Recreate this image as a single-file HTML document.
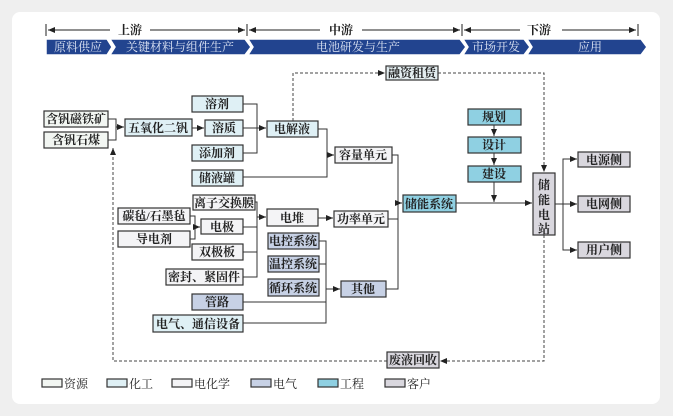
<!DOCTYPE html>
<html><head><meta charset="utf-8"><style>
html,body{margin:0;padding:0;background:#efefef;}
svg{display:block;}
text{font-family:"Liberation Serif","Noto Serif CJK SC",serif;font-size:12px;font-weight:700;fill:#222;}
</style></head><body>
<svg width="673" height="416" viewBox="0 0 673 416" xmlns="http://www.w3.org/2000/svg">
<defs>
<marker id="a" markerWidth="8" markerHeight="8" refX="7" refY="4" orient="auto" markerUnits="userSpaceOnUse"><path d="M0,1 L7,4 L0,7 z" fill="#222"/></marker>
</defs>
<rect x="12" y="12" width="648" height="392" rx="8" fill="#fff"/>
<!-- header arrows -->
<g stroke="#222" stroke-width="1">
<line x1="46" y1="24" x2="46" y2="36"/><line x1="247" y1="24" x2="247" y2="36"/><line x1="462" y1="24" x2="462" y2="36"/><line x1="638" y1="24" x2="638" y2="36"/>
<line x1="110" y1="30" x2="48" y2="30" marker-end="url(#a)"/><line x1="150" y1="30" x2="245" y2="30" marker-end="url(#a)"/>
<line x1="320" y1="30" x2="249" y2="30" marker-end="url(#a)"/><line x1="362" y1="30" x2="460" y2="30" marker-end="url(#a)"/>
<line x1="520" y1="30" x2="464" y2="30" marker-end="url(#a)"/><line x1="562" y1="30" x2="636" y2="30" marker-end="url(#a)"/>
</g>
<text x="130" y="34" text-anchor="middle">上游</text>
<text x="341" y="34" text-anchor="middle">中游</text>
<text x="539" y="34" text-anchor="middle">下游</text>
<!-- banner -->
<g fill="#22448f" stroke="#fff" stroke-width="1.5">
<path d="M46,39 L107,39 L112,47 L107,55 L46,55 z"/>
<path d="M110,39 L245,39 L251,47 L245,55 L110,55 L115,47 z"/>
<path d="M248,39 L460,39 L466,47 L460,55 L248,55 L253,47 z"/>
<path d="M463,39 L524,39 L530,47 L524,55 L463,55 L468,47 z"/>
<path d="M527,39 L641,39 L647,47 L641,55 L527,55 L532,47 z"/>
</g>
<g style="fill:#dfe6f5;font-weight:400">
<text x="78" y="51" text-anchor="middle" style="fill:#dfe6f5;font-weight:400">原料供应</text>
<text x="180" y="51" text-anchor="middle" style="fill:#dfe6f5;font-weight:400">关键材料与组件生产</text>
<text x="358" y="51" text-anchor="middle" style="fill:#dfe6f5;font-weight:400">电池研发与生产</text>
<text x="496" y="51" text-anchor="middle" style="fill:#dfe6f5;font-weight:400">市场开发</text>
<text x="590" y="51" text-anchor="middle" style="fill:#dfe6f5;font-weight:400">应用</text>
</g>
<!-- connectors -->
<g stroke="#333" stroke-width="1" fill="none">
<polyline points="108,119 116,119 116,140 108,140"/><line x1="116" y1="127" x2="124" y2="127" marker-end="url(#a)"/>
<line x1="192" y1="128" x2="204" y2="128" marker-end="url(#a)"/>
<polyline points="243,104 257,104 257,153 243,153"/><line x1="243" y1="128" x2="266" y2="128" marker-end="url(#a)"/>
<polyline points="318,129 327,129 327,177 243,177"/><line x1="327" y1="155" x2="334" y2="155" marker-end="url(#a)"/>
<polyline points="392,155 398,155 398,289 386,289"/><line x1="388" y1="219" x2="398" y2="219"/><line x1="398" y1="203" x2="402" y2="203" marker-end="url(#a)"/>
<polyline points="190,216 195,216 195,239 190,239"/><line x1="195" y1="227" x2="200" y2="227" marker-end="url(#a)"/>
<polyline points="255,202 257,202 257,277 243,277"/><line x1="243" y1="227" x2="257" y2="227"/><line x1="243" y1="252" x2="257" y2="252"/><line x1="257" y1="217" x2="266" y2="217" marker-end="url(#a)"/>
<line x1="318" y1="218" x2="333" y2="218" marker-end="url(#a)"/>
<polyline points="319,241 326,241 326,323 243,323"/><line x1="319" y1="264" x2="326" y2="264"/><line x1="243" y1="302" x2="326" y2="302"/><line x1="326" y1="289" x2="340" y2="289" marker-end="url(#a)"/>
<line x1="456" y1="203" x2="532" y2="203" marker-end="url(#a)"/>
<line x1="494" y1="125" x2="494" y2="136" marker-end="url(#a)"/>
<line x1="494" y1="153" x2="494" y2="165" marker-end="url(#a)"/>
<line x1="494" y1="182" x2="494" y2="202" marker-end="url(#a)"/>
<line x1="555" y1="204" x2="563" y2="204"/><polyline points="577,159 563,159 563,250 577,250"/>
<line x1="563" y1="159" x2="577" y2="159" marker-end="url(#a)"/><line x1="563" y1="204" x2="577" y2="204" marker-end="url(#a)"/><line x1="563" y1="250" x2="577" y2="250" marker-end="url(#a)"/>
</g>
<g stroke="#444" stroke-width="1" fill="none" stroke-dasharray="3,2">
<polyline points="293,121 293,73 385,73" marker-end="url(#a)"/>
<polyline points="438,73 544,73 544,172" marker-end="url(#a)"/>
<polyline points="544,235 544,361 440,361" marker-end="url(#a)"/>
<polyline points="387,361 113,361 113,148" marker-end="url(#a)"/>
</g>
<!-- nodes -->
<g stroke="#333" stroke-width="1.2">
<rect x="44" y="111" width="64" height="16" fill="#f2f6f2"/>
<rect x="44" y="132" width="64" height="16" fill="#f2f6f2"/>
<rect x="125" y="119" width="67" height="17" fill="#dff0f5"/>
<rect x="192" y="96" width="51" height="16" fill="#dff0f5"/>
<rect x="205" y="120" width="38" height="16" fill="#dff0f5"/>
<rect x="192" y="145" width="51" height="16" fill="#dff0f5"/>
<rect x="192" y="170" width="51" height="16" fill="#dff0f5"/>
<rect x="267" y="121" width="51" height="16" fill="#dff0f5"/>
<rect x="335" y="147" width="57" height="16" fill="#f4f4f6"/>
<rect x="386" y="66" width="52" height="14" fill="#e3edf0"/>
<rect x="468" y="109" width="53" height="16" fill="#8fd0e2"/>
<rect x="468" y="137" width="53" height="16" fill="#8fd0e2"/>
<rect x="468" y="166" width="53" height="16" fill="#8fd0e2"/>
<rect x="403" y="195" width="53" height="17" fill="#8fd0e2"/>
<rect x="533" y="173" width="22" height="62" fill="#d9d7de"/>
<rect x="578" y="152" width="52" height="15" fill="#d9d7de"/>
<rect x="578" y="196" width="52" height="16" fill="#d9d7de"/>
<rect x="578" y="242" width="52" height="16" fill="#d9d7de"/>
<rect x="193" y="195" width="62" height="15" fill="#f4f4f6"/>
<rect x="118" y="208" width="72" height="16" fill="#f4f4f6"/>
<rect x="201" y="219" width="42" height="15" fill="#f4f4f6"/>
<rect x="118" y="231" width="72" height="16" fill="#f4f4f6"/>
<rect x="192" y="244" width="51" height="16" fill="#f4f4f6"/>
<rect x="166" y="269" width="77" height="16" fill="#f4f4f6"/>
<rect x="267" y="209" width="51" height="17" fill="#f4f4f6"/>
<rect x="334" y="211" width="54" height="16" fill="#f4f4f6"/>
<rect x="268" y="233" width="51" height="16" fill="#c7d1e5"/>
<rect x="268" y="256" width="51" height="16" fill="#c7d1e5"/>
<rect x="268" y="279" width="51" height="17" fill="#c7d1e5"/>
<rect x="341" y="281" width="45" height="16" fill="#c7d1e5"/>
<rect x="192" y="294" width="51" height="16" fill="#c7d1e5"/>
<rect x="153" y="315" width="90" height="17" fill="#dff0f5"/>
<rect x="387" y="352" width="52" height="16" fill="#d9d7de"/>
</g>
<g text-anchor="middle">
<text x="76" y="123">含钒磁铁矿</text>
<text x="76" y="144">含钒石煤</text>
<text x="158" y="132">五氧化二钒</text>
<text x="217" y="108">溶剂</text>
<text x="224" y="132">溶质</text>
<text x="217" y="157">添加剂</text>
<text x="217" y="182">储液罐</text>
<text x="292" y="133">电解液</text>
<text x="363" y="159">容量单元</text>
<text x="412" y="77">融资租赁</text>
<text x="494" y="121">规划</text>
<text x="494" y="149">设计</text>
<text x="494" y="178">建设</text>
<text x="429" y="208">储能系统</text>
<text x="544" y="189">储</text><text x="544" y="204">能</text><text x="544" y="219">电</text><text x="544" y="233">站</text>
<text x="604" y="164">电源侧</text>
<text x="604" y="208">电网侧</text>
<text x="604" y="254">用户侧</text>
<text x="224" y="207">离子交换膜</text>
<text x="154" y="220">碳毡/石墨毡</text>
<text x="222" y="231">电极</text>
<text x="154" y="243">导电剂</text>
<text x="217" y="256">双极板</text>
<text x="204" y="281">密封、紧固件</text>
<text x="292" y="222">电堆</text>
<text x="361" y="223">功率单元</text>
<text x="293" y="245">电控系统</text>
<text x="293" y="268">温控系统</text>
<text x="293" y="292">循环系统</text>
<text x="363" y="293">其他</text>
<text x="217" y="306">管路</text>
<text x="198" y="328">电气、通信设备</text>
<text x="413" y="364">废液回收</text>
</g>
<!-- legend -->
<g stroke="#333" stroke-width="1.2">
<rect x="42" y="379" width="20" height="8" fill="#f2f6f2"/>
<rect x="107" y="379" width="20" height="8" fill="#dff0f5"/>
<rect x="172" y="379" width="20" height="8" fill="#f4f4f6"/>
<rect x="251" y="379" width="20" height="8" fill="#c7d1e5"/>
<rect x="318" y="379" width="20" height="8" fill="#8fd0e2"/>
<rect x="385" y="379" width="20" height="8" fill="#d9d7de"/>
</g>
<g style="font-weight:400">
<text x="64" y="388" style="font-weight:400">资源</text>
<text x="129" y="388" style="font-weight:400">化工</text>
<text x="194" y="388" style="font-weight:400">电化学</text>
<text x="273" y="388" style="font-weight:400">电气</text>
<text x="340" y="388" style="font-weight:400">工程</text>
<text x="407" y="388" style="font-weight:400">客户</text>
</g>
</svg>
</body></html>
